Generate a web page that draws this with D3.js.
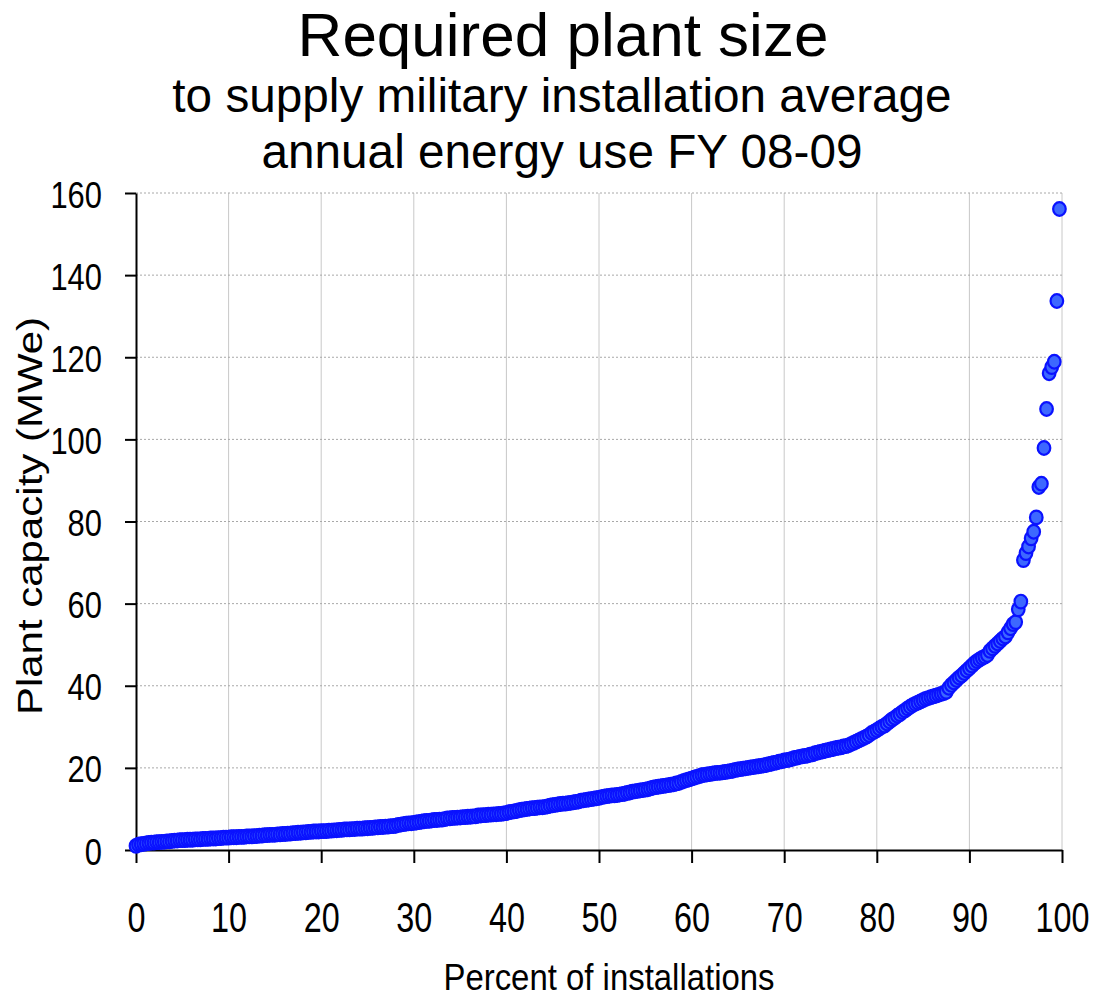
<!DOCTYPE html>
<html lang="en">
<head>
<meta charset="UTF-8">
<title>Required plant size</title>
<script src="https://d3js.org/d3.v7.min.js"></script>
<style>
  body { margin: 0; background: #fff; }
  svg { display: block; font-family: "Liberation Sans", Arial, sans-serif; }
</style>
</head>
<body>
<svg width="1103" height="997"></svg>
<script>
// plant capacity (MWe) per installation, sorted ascending
const capacity = [
  1.0, 1.3, 1.4, 1.5, 1.6, 1.7, 1.8, 1.8, 1.9, 1.9, 2.0, 2.0, 2.1, 2.1, 2.2,
  2.3, 2.3, 2.4, 2.4, 2.4, 2.5, 2.5, 2.5, 2.6, 2.6, 2.6, 2.7, 2.7, 2.7, 2.8, 2.8, 2.8,
  2.9, 2.9, 3.0, 3.0, 3.0, 3.1, 3.1, 3.1, 3.2, 3.2, 3.2, 3.3, 3.3, 3.3,
  3.4, 3.4, 3.5, 3.5, 3.6, 3.6, 3.7, 3.7, 3.7, 3.8, 3.8, 3.9, 3.9, 4.0, 4.0, 4.1, 4.1,
  4.2, 4.2, 4.3, 4.3, 4.4, 4.4, 4.5, 4.5, 4.5, 4.6, 4.6, 4.6, 4.7, 4.7,
  4.8, 4.8, 4.9, 4.9, 5.0, 5.0, 5.0, 5.1, 5.1, 5.2, 5.2, 5.2, 5.3, 5.3,
  5.4, 5.4, 5.5, 5.5, 5.6, 5.6, 5.7, 5.7, 5.8, 5.8, 5.9,
  6.1, 6.2, 6.3, 6.4, 6.5, 6.5, 6.6, 6.7, 6.8,
  6.9, 7.0, 7.1, 7.1, 7.2, 7.3, 7.3, 7.4, 7.4, 7.5,
  7.7, 7.7, 7.8, 7.8, 7.9, 7.9, 8.0, 8.0, 8.1, 8.1, 8.2, 8.2,
  8.4, 8.4, 8.5, 8.5, 8.6, 8.6, 8.7, 8.7, 8.8, 8.8, 8.9, 9.0,
  9.2, 9.3, 9.4, 9.5, 9.7, 9.8,
  9.9, 10.0, 10.1, 10.2, 10.2, 10.3, 10.4, 10.4, 10.5, 10.6,
  10.8, 10.9, 11.0, 11.1, 11.2, 11.3, 11.3, 11.4, 11.5, 11.6, 11.7, 11.8,
  12.0, 12.1, 12.2, 12.3, 12.4, 12.5, 12.6, 12.7,
  12.9, 13.0, 13.1, 13.2, 13.3, 13.3, 13.4, 13.5, 13.6, 13.7,
  13.9, 14.0, 14.2, 14.3, 14.4, 14.5, 14.6, 14.7, 14.8, 15.0,
  15.2, 15.3, 15.4, 15.5, 15.6, 15.7, 15.8, 15.9, 16.0, 16.2, 16.3,
  16.6, 16.8, 17.0, 17.2, 17.4, 17.6, 17.8, 18.0,
  18.2, 18.3, 18.4, 18.5, 18.6, 18.7, 18.8, 18.8, 18.9, 19.0, 19.1, 19.2, 19.3,
  19.5, 19.6, 19.7, 19.8, 19.9, 20.0, 20.1, 20.2, 20.3, 20.4, 20.5, 20.6, 20.7,
  20.9, 21.0, 21.2, 21.3, 21.5, 21.6, 21.8, 21.9, 22.0, 22.2,
  22.4, 22.5, 22.7, 22.8, 22.9, 23.0, 23.2, 23.3,
  23.6, 23.7, 23.9, 24.0, 24.2, 24.3, 24.5, 24.6, 24.8, 24.9, 25.0, 25.2, 25.3, 25.5,
  25.8, 26.1, 26.4, 26.7, 27.0, 27.3, 27.6, 28.0,
  28.5, 28.8, 29.2, 29.6, 30.0, 30.3,
  30.8, 31.3, 31.8, 32.2, 32.7, 33.1, 33.6, 34.0,
  34.5, 34.9, 35.3, 35.6, 35.9, 36.2, 36.5, 36.8,
  37.0, 37.2, 37.4, 37.6, 37.8, 38.0, 38.2, 38.5,
  39.5, 40.2, 40.8, 41.4, 42.0,
  42.5, 43.1, 43.7, 44.3, 44.9, 45.5,
  46.0, 46.4, 46.8, 47.1, 47.5,
  48.5, 49.1, 49.7, 50.3, 50.9, 51.5,
  52.0, 53.0, 54.0, 55.0,
  55.5, 58.6, 60.5,
  70.6, 72.3, 73.9, 75.9, 77.5, 81.0, 88.4, 89.2, 97.9, 107.4, 116.1, 117.6, 118.9, 133.7, 156.1
];
const xTicks = [0, 10, 20, 30, 40, 50, 60, 70, 80, 90, 100];
const yTicks = [0, 20, 40, 60, 80, 100, 120, 140, 160];
const titleText = "Required plant size";
const subtitleLines = ["to supply military installation average", "annual energy use FY 08-09"];
const xLabel = "Percent of installations";
const yLabel = "Plant capacity (MWe)";

// percent of installations = rank position
const n = capacity.length;
const points = capacity.map((v, i) => ({ pct: i / n * 100, mwe: v }));

const svg = d3.select("svg");
const plot = { left: 136, right: 1062, top: 193, bottom: 850 };

const x = d3.scaleLinear().domain([0, 100]).range([plot.left, plot.right]);
const y = d3.scaleLinear().domain([0, 160]).range([plot.bottom, plot.top]);

// grid
svg.append("g").selectAll("line")
  .data(xTicks.slice(1))
  .join("line")
  .attr("x1", d => x(d)).attr("x2", d => x(d))
  .attr("y1", plot.top).attr("y2", plot.bottom)
  .attr("stroke", "#c8c8c8").attr("stroke-width", 1);

svg.append("g").selectAll("line")
  .data(yTicks.slice(1))
  .join("line")
  .attr("x1", plot.left).attr("x2", plot.right)
  .attr("y1", d => y(d)).attr("y2", d => y(d))
  .attr("stroke", "#a8a8a8").attr("stroke-width", 1)
  .attr("stroke-dasharray", "2,2");

// axes
const xAxis = svg.append("g")
  .attr("transform", `translate(0,${plot.bottom})`)
  .call(d3.axisBottom(x).tickValues(xTicks).tickSizeInner(13).tickSizeOuter(0));
const yAxis = svg.append("g")
  .attr("transform", `translate(${plot.left},0)`)
  .call(d3.axisLeft(y).tickValues(yTicks).tickSizeInner(11).tickSizeOuter(0));

[xAxis, yAxis].forEach(a => {
  a.select(".domain").attr("stroke", "#000").attr("stroke-width", 2);
  a.selectAll(".tick line").attr("stroke", "#000").attr("stroke-width", 2);
});

xAxis.selectAll(".tick text")
  .attr("y", null).attr("dy", null)
  .attr("transform", "translate(0,82) scale(0.77,1)")
  .attr("font-size", 42).attr("fill", "#000")
  .attr("font-family", "Liberation Sans, Arial, sans-serif");

yAxis.selectAll(".tick text")
  .attr("x", null).attr("dy", null)
  .attr("transform", "translate(-34,14) scale(0.82,1)")
  .attr("font-size", 37.7).attr("fill", "#000")
  .attr("font-family", "Liberation Sans, Arial, sans-serif");

// points
svg.append("g").selectAll("ellipse")
  .data(points)
  .join("ellipse")
  .attr("cx", d => x(d.pct))
  .attr("cy", d => y(d.mwe))
  .attr("rx", 6.3).attr("ry", 6.8)
  .attr("fill", "#3d68ff")
  .attr("stroke", "#0a12ff")
  .attr("stroke-width", 2.2);

// titles
svg.append("text")
  .attr("x", 563).attr("y", 56)
  .attr("text-anchor", "middle")
  .attr("font-size", 62)
  .text(titleText);

svg.append("g").selectAll("text")
  .data(subtitleLines)
  .join("text")
  .attr("x", 562).attr("y", (d, i) => 112 + i * 56)
  .attr("text-anchor", "middle")
  .attr("font-size", 47.7)
  .text(d => d);

svg.append("text")
  .attr("transform", "translate(609,990) scale(0.907,1)")
  .attr("text-anchor", "middle")
  .attr("font-size", 36.3)
  .text(xLabel);

svg.append("text")
  .attr("transform", "translate(42,516) rotate(-90) scale(1.2,1)")
  .attr("text-anchor", "middle")
  .attr("font-size", 35)
  .text(yLabel);
</script>
</body>
</html>
